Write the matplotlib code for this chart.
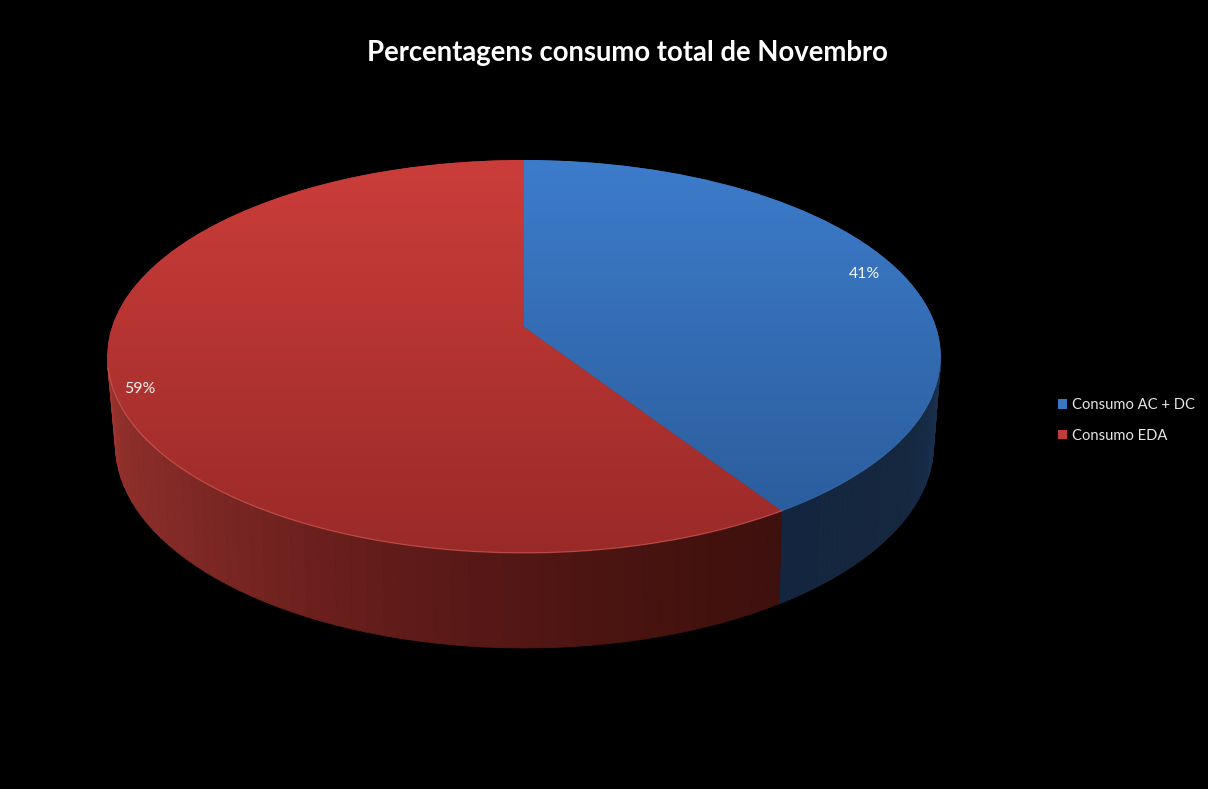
import numpy as np
import matplotlib
matplotlib.use("Agg")
import matplotlib.pyplot as plt
from matplotlib.collections import PolyCollection
from matplotlib.colors import LinearSegmentedColormap, to_rgb
from matplotlib.patches import Patch
from matplotlib.transforms import Transform

plt.rcParams['font.family'] = ['Lato', 'DejaVu Sans']

# data
categories = ["Consumo AC + DC", "Consumo EDA"]
values = [40.8, 59.2]
title = "Percentagens consumo total de Novembro"

# style
blue_top = ("#3d7ccb", "#295a98")
red_top = ("#cb3d3a", "#9a2a28")
base_colors = ["#336bb0", "#b53532"]
W, H = 1208, 789


class Persp(Transform):
    """Perspective view of the unit pie circle, in pixel-like data units."""
    input_dims = output_dims = 2
    is_affine = False
    has_inverse = False

    def __init__(self, x0, y0, rx, ry, c):
        super().__init__()
        self.p = (x0, y0, rx, ry, c)

    def transform_non_affine(self, xy):
        x0, y0, rx, ry, c = self.p
        xy = np.asarray(xy, float)
        d = 1 + c * xy[:, 1]
        return np.column_stack([x0 + rx * xy[:, 0] / d, y0 - ry * xy[:, 1] / d])


top = Persp(524, 327, 412, 192, 0.15)
bot = Persp(524.5, 412.5, 403.7, 197.8, 0.16)

fig = plt.figure(figsize=(W / 100, H / 100), dpi=100, facecolor="black")
ax = fig.add_axes([0, 0, 1, 1])

wedges, _, autotexts = ax.pie(values, startangle=90, counterclock=False,
                              colors=base_colors, autopct="%.0f%%", pctdistance=0.92,
                              textprops=dict(color="#f2f2f2", fontsize=11.4),
                              wedgeprops=dict(linewidth=0))
ax.set_aspect("auto")
ax.set_xlim(0, W)
ax.set_ylim(H, 0)
ax.axis("off")

for w in wedges:
    w.set_transform(top + ax.transData)
    w.set_zorder(2)


def shade(*pairs):
    return LinearSegmentedColormap.from_list("s", list(pairs))


# side wall strips, one strip set per slice, from the slice angles
fractions = np.array(values) / sum(values)
edges = np.concatenate([[0], np.cumsum(fractions)]) * 2 * np.pi
vis = [(np.radians(98), edges[1]), (edges[1], np.radians(262))]
side_cmaps = [
    shade((0, "#1a3252"), (0.5, "#15283f"), (1, "#14263f")),
    shade((0, "#3e100e"), (0.15, "#47130f"), (0.33, "#561816"), (0.5, "#6a1f1c"),
          (0.7, "#802926"), (0.88, "#8f2f2b"), (1, "#a0352f")),
]
for (a, b), cm in zip(vis, side_cmaps):
    ts = np.linspace(a, b, 56)
    circ = np.column_stack([np.sin(ts), np.cos(ts)])
    pt = top.transform(circ)
    pb = bot.transform(circ)
    quads = [[pt[i], pt[i + 1], pb[i + 1], pb[i]] for i in range(len(ts) - 1)]
    cols = cm(np.linspace(0, 1, len(quads)))
    ax.add_collection(PolyCollection(quads, facecolors=cols, edgecolors=cols,
                                     linewidths=0.6, zorder=1))

# gradient fill of the top faces, clipped to the pie wedges
ymin, ymax = 160, 553
for w, (c1, c2) in zip(wedges, [blue_top, red_top]):
    f = np.linspace(0, 1, 256)[:, None, None]
    img = (1 - f) * np.array(to_rgb(c1)) + f * np.array(to_rgb(c2))
    im = ax.imshow(img, extent=(90, 960, ymax, ymin), aspect="auto", zorder=3,
                   interpolation="bilinear")
    im.set_clip_path(w)
ax.set_xlim(0, W)
ax.set_ylim(H, 0)

# soft rim highlight along the front edge of the top face
rim_spans = [(np.radians(110), edges[1]), (edges[1], np.radians(258))]
for (a, b), col, lw in zip(rim_spans, ["#3a70b4", "#d9625c"], [0.7, 0.9]):
    ts = np.linspace(a, b, 200)
    p = top.transform(np.column_stack([np.sin(ts), np.cos(ts)]))
    ax.plot(p[:, 0], p[:, 1], color=col, lw=lw, alpha=0.6, zorder=4)

# percentage labels, moved onto the perspective face
offsets = [(-9, -5), (-6, 10)]
for at, (dx, dy) in zip(autotexts, offsets):
    px = top.transform(np.array([at.get_position()]))[0]
    at.set_position((px[0] + dx, px[1] + dy))
    at.set_zorder(6)

ax.text(627.5, 53, title, color="white", fontsize=19.8, fontweight="bold",
        ha="center", va="center", zorder=6)

handles = [Patch(facecolor=c, edgecolor="none") for c in ["#3a78c4", "#c03c3a"]]
ax.legend(handles, categories, loc="center left",
          bbox_to_anchor=(1058 / W, 1 - 420.5 / H), bbox_transform=fig.transFigure,
          frameon=False, labelcolor="#e6e6e6", fontsize=10.6,
          handlelength=0.62, handleheight=0.62, handletextpad=0.34,
          labelspacing=1.13, borderpad=0, borderaxespad=0)

fig.savefig("out.png", dpi=100, facecolor="black")
